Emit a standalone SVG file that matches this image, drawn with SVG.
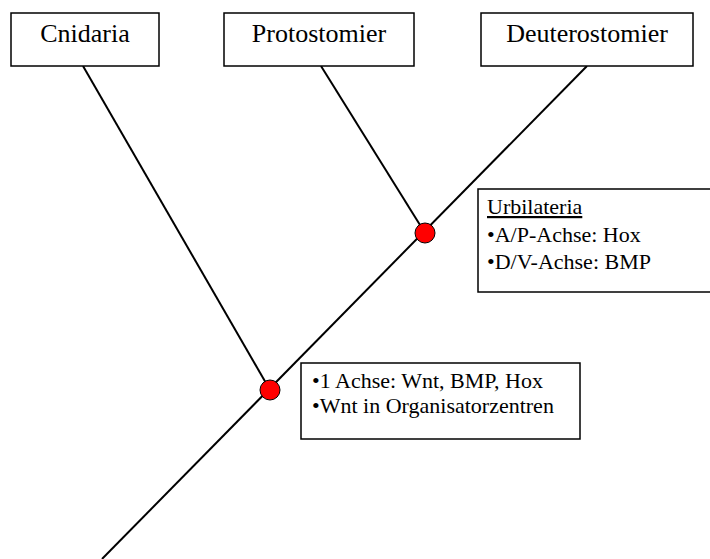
<svg xmlns="http://www.w3.org/2000/svg" width="710" height="559" viewBox="0 0 710 559">
<style>
.box{fill:#fff;stroke:#000;stroke-width:1.5}
.ln{stroke:#000;stroke-width:2;fill:none}
.dot{fill:#f00;stroke:#000;stroke-width:1}
text{font-family:"Liberation Serif","Times New Roman",Times,serif;fill:#000}
.top{font-size:26px;text-anchor:middle}
.sm{font-size:22px}
</style>
<rect width="710" height="559" fill="#fff"/>
<g id="connectors">
<line class="ln" x1="102" y1="559" x2="587" y2="66"/>
<line class="ln" x1="83" y1="66" x2="270" y2="390"/>
<line class="ln" x1="321" y1="66" x2="425" y2="233"/>
</g>
<g id="cnidaria">
<rect class="box" x="11" y="13" width="148" height="53"/>
<text class="top" x="85" y="42">Cnidaria</text>
</g>
<g id="protostomier">
<rect class="box" x="224" y="13" width="190" height="53"/>
<text class="top" x="319" y="42">Protostomier</text>
</g>
<g id="deuterostomier">
<rect class="box" x="481" y="13" width="212" height="53"/>
<text class="top" x="587" y="42">Deuterostomier</text>
</g>
<g id="urbilateria-node">
<circle class="dot" cx="425" cy="233" r="10"/>
</g>
<g id="urbilateria">
<rect class="box" x="478" y="189" width="250" height="103"/>
<text class="sm" x="487" y="214" style="font-family:'Liberation Serif',serif;text-decoration:underline">Urbilateria</text>
<text class="sm" x="487" y="242" style="font-family:'Liberation Serif',serif">•A/P-Achse: Hox</text>
<text class="sm" x="487" y="269" style="font-family:'Liberation Serif',serif">•D/V-Achse: BMP</text>
</g>
<g id="cnidaria-node">
<circle class="dot" cx="270" cy="390" r="10"/>
</g>
<g id="achse">
<rect class="box" x="301" y="363" width="279" height="76"/>
<text class="sm" x="312" y="388" style="font-family:'Liberation Serif',serif">•1 Achse: Wnt, BMP, Hox</text>
<text class="sm" x="312" y="413" style="font-family:'Liberation Serif',serif">•Wnt in Organisatorzentren</text>
</g>
</svg>
